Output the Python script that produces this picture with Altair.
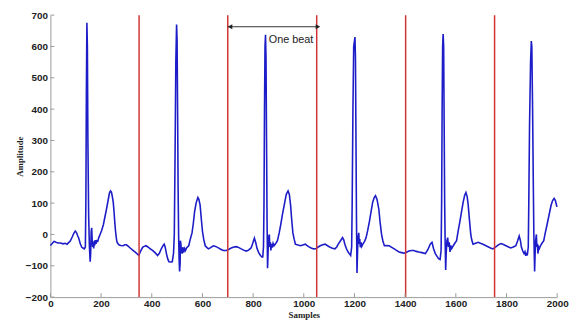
import altair as alt
import pandas as pd

# ECG trace (sample index, amplitude)
sample_x = [0, 8, 14, 22, 30, 40, 50, 58, 66, 72, 79, 86, 92, 98, 103, 108, 112, 118, 124, 130, 134, 138,
            140, 142, 144, 146, 148, 151, 154, 157, 159, 161, 163, 165, 167, 169, 171, 173, 175, 177, 180,
            183, 187, 191, 196, 202, 209, 215, 222, 228, 233, 237, 241, 245, 248, 251, 254, 257, 260, 263,
            270, 278, 287, 294, 300, 308, 316, 326, 336, 344, 349,
            355, 364, 370, 377, 385, 393, 403, 413, 423, 430, 438, 445, 449, 453, 458, 463, 468, 475, 481,
            486, 489, 492, 495, 498, 500, 502, 504, 506, 508, 510, 512, 513, 515, 517, 520, 523, 526, 530,
            533, 538, 546, 552, 559, 564, 569, 575, 582, 586, 591, 595, 600, 605, 611, 618, 624, 632, 643,
            652, 663, 672, 682, 695, 705, 714, 724, 734, 744, 753, 763, 773, 782, 792, 798, 805, 810, 816,
            822, 829, 835, 838, 841, 843, 845, 847, 849, 851, 853, 855, 857, 859, 861, 864, 866, 868, 870,
            873, 876, 879, 883, 890, 896, 903, 909, 916, 925, 931, 938, 943, 948, 952, 957, 962, 967, 977,
            987, 996, 1006, 1012, 1019, 1029, 1039, 1049,
            1057, 1065, 1075, 1084, 1094, 1104, 1113, 1123, 1130, 1136, 1145, 1153, 1158, 1162, 1168, 1175,
            1180, 1185, 1189, 1191, 1194, 1197, 1202, 1204, 1206, 1208, 1210, 1212, 1214, 1217, 1219, 1221,
            1223, 1226, 1229, 1233, 1240, 1246, 1252, 1259, 1266, 1272, 1278, 1283, 1289, 1296, 1301, 1307,
            1312, 1318, 1327, 1337, 1347, 1357, 1366, 1376, 1386, 1396, 1405, 1415, 1425, 1434, 1444, 1454,
            1466, 1480, 1490, 1499, 1506, 1512, 1519, 1526, 1532, 1538, 1542, 1544, 1546, 1548, 1550, 1552,
            1554, 1556, 1558, 1560, 1562, 1565, 1568, 1571, 1574, 1577, 1580, 1584, 1590, 1596, 1603, 1609,
            1616, 1622, 1629, 1635, 1640, 1645, 1649, 1654, 1659, 1663, 1668, 1678, 1688, 1697, 1707, 1717,
            1727, 1737, 1746, 1752, 1759, 1768, 1778, 1788, 1798, 1808, 1817, 1827, 1837, 1844, 1850, 1855,
            1859, 1864, 1869, 1873, 1876, 1879, 1882, 1886, 1888, 1891, 1895, 1898, 1900, 1903, 1906, 1908,
            1911, 1913, 1915, 1918, 1920, 1922, 1924, 1927, 1930, 1934, 1940, 1947, 1953, 1960, 1968, 1976,
            1982, 1988, 1993, 1997, 1999]
amplitude = [-35, -28, -22, -25, -27, -27, -30, -28, -31, -26, -20, -8, 3, 11, 6, -5, -12, -30, -41, -44, -46, -40,
             100, 450, 676, 600, 300, 60, -40, -87, -60, 10, 21, -20, -40, -25, -45, -20, -35, -18, -30,
             -20, -22, -10, 0, 12, 31, 55, 83, 110, 132, 139, 135, 118, 103, 75, 40, 11, -10, -25,
             -33, -35, -36, -33, -33, -38, -44, -51, -57, -63, -67,
             -55, -41, -38, -36, -40, -45, -51, -58, -67, -60, -45, -35, -31, -40, -61, -78, -87, -88, -87,
             -60, 0, 250, 550, 670, 620, 400, 150, 0, -80, -118, -90, -20, -30, -55, -61, -40, -58, -45,
             -51, -42, -36, -15, 5, 35, 72, 100, 118, 112, 93, 55, 11, -15, -36, -42, -46, -42, -36,
             -38, -43, -47, -51, -51, -47, -43, -40, -39, -42, -46, -50, -53, -50, -43, -30, -12, -25, -46,
             -58, -67, -72, -72, -40, 100, 400, 600, 637, 560, 300, 50, -108, -60, -10, 0, -40, -25, -51,
             -30, -42, -28, -36, -28, -20, 5, 31, 65, 103, 128, 139, 128, 93, 50, 5, -15, -31, -34,
             -36, -34, -31, -35, -39, -43, -46, -45,
             -40, -36, -33, -31, -36, -41, -44, -46, -40, -31, -20, -10, -18, -31, -45, -56,
             -62, -67, -40, 100, 400, 600, 630, 560, 300, 50, -123, -60, -10, 5, -30, -15,
             -41, -25, -38, -31, -22, -10, 12, 41, 75, 103, 118, 124, 112, 82, 40, 0,
             -20, -36, -35, -36, -41, -46, -51, -56, -58, -60, -57, -53, -51, -51, -54, -56,
             -58, -61, -48, -31, -25, -45, -61, -70, -77, -80, -50, 100, 400, 600, 640, 600,
             350, 100, -30, -113, -60, -20, -10, -40, -25, -56, -35, -45, -36, -28, -20, 10,
             41, 70, 103, 125, 134, 120, 93, 45, 0, -18, -31, -28, -25, -28, -31, -35,
             -39, -43, -46, -43, -39, -33, -29, -32, -36, -40, -43, -40, -36, -20, -5, -20,
             -41, -52, -61, -55, -68, -58, -67, -40, 100, 350, 550, 617, 600, 400, 150, 0,
             -118, -60, -20, 0, -40, -30, -61, -40, -45, -36, -28, -20, 5, 31, 62, 93,
             108, 115, 108, 95, 88]

beat_lines = [350, 700, 1051, 1402, 1753]
x_ticks = list(range(0, 2001, 200))
y_ticks = list(range(-200, 701, 100))
arrow_start, arrow_end, arrow_y = 700, 1050, 663
head_x = [709, 1056]
head_shapes = ["triangle-left", "triangle-right"]
label_text = ["One beat"]
label_x = [862]
label_y = [622]

W, H = 514, 286
xs = alt.Scale(domain=[0, 2000], nice=False, zero=False)
ys = alt.Scale(domain=[-200, 700], nice=False, zero=False)

ecg = pd.DataFrame({"x": sample_x, "y": amplitude})

x_axis = alt.Axis(values=x_ticks, title="Samples", ticks=False, grid=False, format="d",
                  domainColor="#9a9a9a", labelFont="Liberation Sans", labelFontWeight="bold",
                  labelFontSize=10, labelColor="#222222", labelPadding=2, labelOverlap=False,
                  labelFlush=False, titleFont="Liberation Serif", titleFontWeight="bold",
                  titleFontSize=9, titleColor="#222222", titleY=14, titleBaseline="top")
y_axis = alt.Axis(values=y_ticks, title="Amplitude", ticks=False, grid=False, format="d",
                  domainColor="#9a9a9a", labelFont="Liberation Sans", labelFontWeight="bold",
                  labelFontSize=10, labelColor="#222222", labelPadding=3, labelOverlap=False,
                  labelFlush=False, titleFont="Liberation Serif", titleFontWeight="bold",
                  titleFontSize=9, titleColor="#222222", titleX=-31, titleY=H / 2,
                  titleAngle=-90, titleAlign="center", titleBaseline="middle")


def X(field):
    return alt.X(field, scale=xs, axis=x_axis)


def Y(field):
    return alt.Y(field, scale=ys, axis=y_axis)


trace = alt.Chart(ecg).mark_line(color="#1c1cc8", strokeWidth=1.6).encode(
    x=X("x:Q"), y=Y("y:Q"))

red = alt.Chart(pd.DataFrame({"x": beat_lines})).mark_rule(color="#d03333", strokeWidth=1.5).encode(
    x=X("x:Q"), y=alt.value(0), y2=alt.value(H))

xt = alt.Chart(pd.DataFrame({"x": x_ticks})).mark_rule(color="#9a9a9a", strokeWidth=1).encode(
    x=X("x:Q"), y=alt.value(H), y2=alt.value(H - 4))
yt = alt.Chart(pd.DataFrame({"y": y_ticks})).mark_rule(color="#9a9a9a", strokeWidth=1).encode(
    y=Y("y:Q"), x=alt.value(0), x2=alt.value(4))

arrow_line = alt.Chart(pd.DataFrame({"x": [arrow_start], "x2": [arrow_end], "y": [arrow_y]})).mark_rule(
    color="#333333", strokeWidth=1).encode(x=X("x:Q"), x2="x2:Q", y=Y("y:Q"))
heads = alt.Chart(pd.DataFrame({"x": head_x, "y": [arrow_y, arrow_y], "s": head_shapes})).mark_point(
    filled=True, color="#222222", size=28, opacity=1).encode(
    x=X("x:Q"), y=Y("y:Q"), shape=alt.Shape("s:N", scale=None, legend=None))

label = alt.Chart(pd.DataFrame({"t": label_text, "x": label_x, "y": label_y})).mark_text(
    align="left", baseline="middle", font="Liberation Sans", fontSize=11, color="#222222").encode(
    x=X("x:Q"), y=Y("y:Q"), text="t:N")

chart = alt.layer(trace, red, xt, yt, arrow_line, heads, label).properties(
    width=W, height=H,
    autosize=alt.AutoSizeParams(type="none"),
    padding={"left": 43, "top": 5, "right": 12, "bottom": 24},
    background="white",
).configure_view(stroke=None)

chart.save("out.html", embed_options={"renderer": "svg", "actions": False})
